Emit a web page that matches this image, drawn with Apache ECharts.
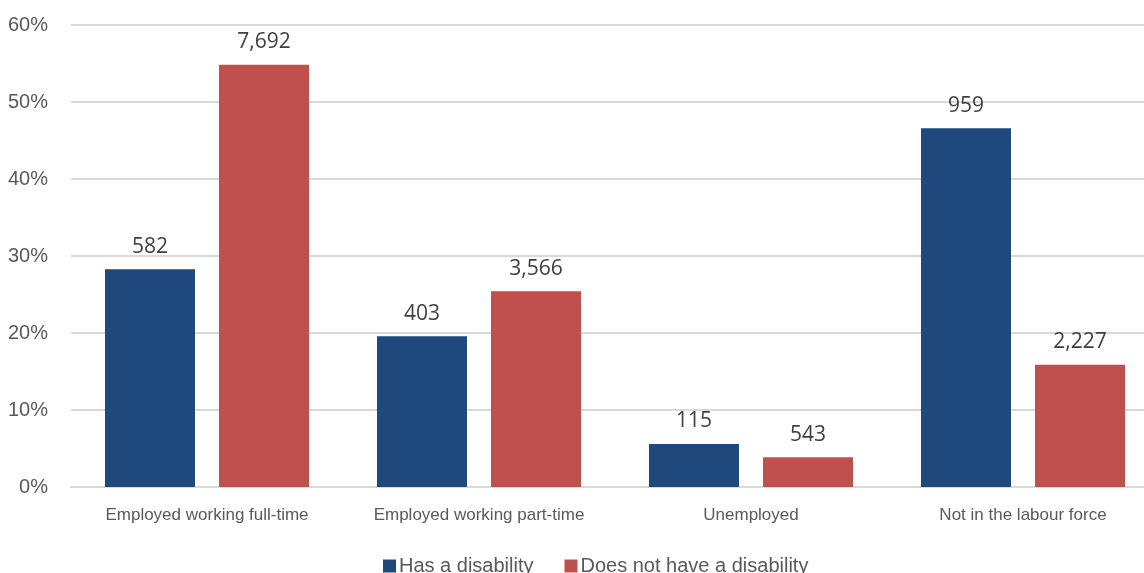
<!DOCTYPE html>
<html>
<head>
<meta charset="utf-8">
<script src="https://cdn.jsdelivr.net/npm/echarts@6/dist/echarts.min.js"></script>
<style>
  html, body { margin: 0; padding: 0; background: #fff; }
  #chart { width: 1144px; height: 573px; }
</style>
</head>
<body>
<div id="chart"></div>
<script>
// Labour force status by disability status: counts per group
const categories = ['Employed working full-time', 'Employed working part-time', 'Unemployed', 'Not in the labour force'];
const seriesNames = ['Has a disability', 'Does not have a disability'];
const hasDisability = [582, 403, 115, 959];
const noDisability = [7692, 3566, 543, 2227];
const yTicks = [0, 10, 20, 30, 40, 50, 60];

// Bars show each count as a share of its group total
function shares(counts) {
  const total = counts.reduce((a, b) => a + b, 0);
  return counts.map(c => ({ value: c / total * 100, count: c }));
}

const axisFont = '"Liberation Sans Narrow", "Arial Narrow", "Liberation Sans", sans-serif';
const labelFont = '"Open Sans", "Noto Sans", sans-serif';

const chart = echarts.init(document.getElementById('chart'), null, { renderer: 'canvas' });
chart.setOption({
  animation: false,
  // plot area runs past the right edge of the canvas
  grid: { left: 71, width: 1088, top: 25, bottom: 86, containLabel: false, outerBoundsMode: 'none' },
  legend: {
    data: seriesNames,
    left: 378,
    top: 551,
    itemWidth: 13,
    itemHeight: 13,
    itemGap: 31,
    icon: 'rect',
    textStyle: { fontFamily: axisFont, fontSize: 20, color: '#595959', padding: [0, 0, 0, -2] }
  },
  xAxis: {
    type: 'category',
    data: categories,
    axisLine: { show: true, lineStyle: { color: '#d9d9d9', width: 2 } },
    axisTick: { show: false },
    axisLabel: { interval: 0, fontFamily: axisFont, fontSize: 17, color: '#595959', margin: 20 }
  },
  yAxis: {
    type: 'value',
    min: yTicks[0],
    max: yTicks[yTicks.length - 1],
    interval: 10,
    axisLine: { show: false },
    axisTick: { show: false },
    splitLine: { lineStyle: { color: '#d9d9d9', width: 2 } },
    axisLabel: {
      fontFamily: axisFont, fontSize: 20, color: '#595959', margin: 23,
      formatter: v => v + '%'
    }
  },
  series: [
    {
      name: seriesNames[0],
      type: 'bar',
      data: shares(hasDisability),
      barWidth: 90,
      barGap: '26.7%',
      itemStyle: { color: '#1f497d' },
      label: {
        show: true, position: 'top', distance: 12,
        fontFamily: labelFont, fontSize: 21, color: '#404040',
        formatter: p => p.data.count.toLocaleString('en-US')
      }
    },
    {
      name: seriesNames[1],
      type: 'bar',
      data: shares(noDisability),
      barWidth: 90,
      itemStyle: { color: '#c0504d' },
      label: {
        show: true, position: 'top', distance: 12,
        fontFamily: labelFont, fontSize: 21, color: '#404040',
        formatter: p => p.data.count.toLocaleString('en-US')
      }
    }
  ]
});
</script>
</body>
</html>
